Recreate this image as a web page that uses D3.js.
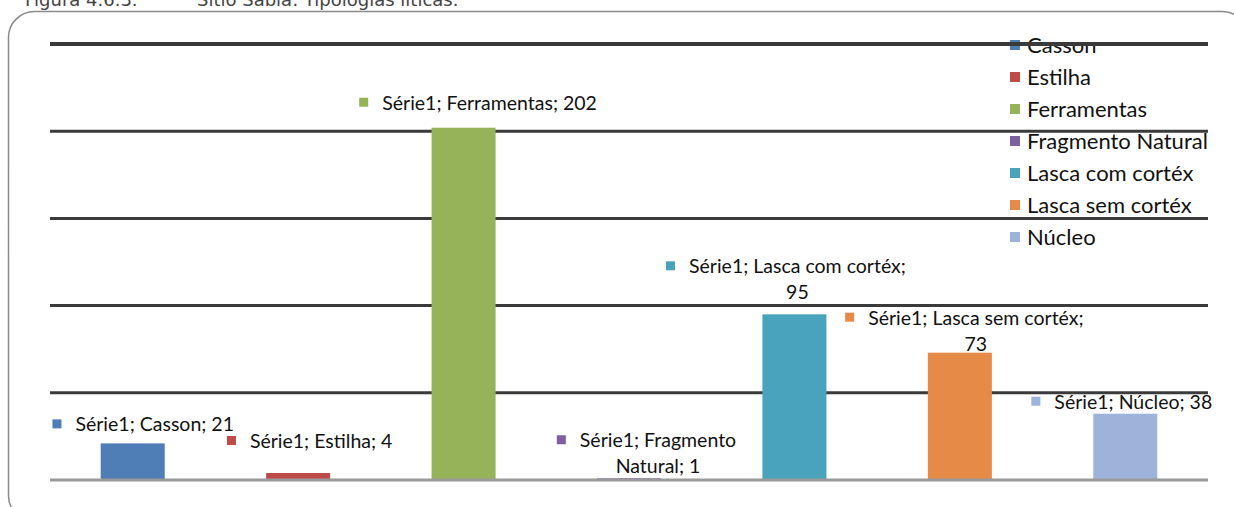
<!DOCTYPE html>
<html>
<head>
<meta charset="utf-8">
<script src="https://cdn.jsdelivr.net/npm/d3@7"></script>
<style>
  body { margin: 0; background: #fff; }
  svg { display: block; }
</style>
</head>
<body>
<svg id="chart" width="1234" height="507"></svg>
<script>
// data
var categories = ["Casson", "Estilha", "Ferramentas", "Fragmento Natural", "Lasca com cortéx", "Lasca sem cortéx", "Núcleo"];
var values = [21, 4, 202, 1, 95, 73, 38];
var colors = ["#4f7db6", "#be4b48", "#97b359", "#7d60a0", "#4aa3bd", "#e68b47", "#9eb3da"];
var seriesName = "Série1";
var yTicks = [0, 50, 100, 150, 200, 250];
// how Excel wrapped the data labels
var labelLines = [
  ["Série1; Casson; 21"],
  ["Série1; Estilha; 4"],
  ["Série1; Ferramentas; 202"],
  ["Série1; Fragmento", "Natural; 1"],
  ["Série1; Lasca com cortéx;", "95"],
  ["Série1; Lasca sem cortéx;", "73"],
  ["Série1; Núcleo; 38"]
];
var labelDx = [22, 23, 26, 29, 3, 16, 8];
var labelDy = [19, 32, 25, 38, 48, 35, 12];

var svg = d3.select("#chart");
var plotL = 50, plotR = 1208, plotT = 44, plotB = 480;

var x = d3.scaleBand()
    .domain(categories)
    .range([plotL, plotR])
    .paddingInner(0.613)
    .paddingOuter(0.3065);
var y = d3.scaleLinear().domain([0, 250]).range([plotB, plotT]);

// caption (cut off at top)
svg.append("text")
    .attr("x", 25).attr("y", 6)
    .style("font-family", "DejaVu Sans")
    .style("font-size", "18px")
    .style("fill", "#444")
    .text("Figura 4.6.3.");
svg.append("text")
    .attr("x", 197).attr("y", 6)
    .style("font-family", "DejaVu Sans")
    .style("font-size", "18px")
    .style("fill", "#444")
    .text("Sítio Sabiá: Tipologias líticas.");

// frame
svg.append("rect")
    .attr("x", 8.5).attr("y", 11.5)
    .attr("width", 1240).attr("height", 510)
    .attr("rx", 26).attr("ry", 26)
    .style("fill", "none")
    .style("stroke", "#8a8a8a")
    .style("stroke-width", 1.5);

// gridlines
var grid = svg.append("g").attr("class", "grid");
grid.selectAll("line")
    .data(yTicks.filter(function(d){ return d > 0; }))
    .enter()
    .append("line")
    .attr("x1", plotL).attr("x2", plotR)
    .attr("y1", function(d){ return y(d); })
    .attr("y2", function(d){ return y(d); })
    .style("stroke", "#3a3a3a")
    .style("stroke-width", function(d){ return d == 250 ? 4 : 3; });

// bars
svg.append("g").selectAll("rect")
    .data(values)
    .enter()
    .append("rect")
    .attr("x", function(d, i){ return x(categories[i]); })
    .attr("y", function(d){ return y(d); })
    .attr("width", x.bandwidth())
    .attr("height", function(d){ return y(0) - y(d); })
    .style("fill", function(d, i){ return colors[i]; });

// baseline
svg.append("line")
    .attr("x1", plotL).attr("x2", plotR)
    .attr("y1", y(0)).attr("y2", y(0))
    .style("stroke", "#9a9a9a")
    .style("stroke-width", 3);

// data labels
var labels = svg.append("g").selectAll("g")
    .data(values)
    .enter()
    .append("g")
    .attr("transform", function(d, i){
        var cx = x(categories[i]) + x.bandwidth() / 2 + labelDx[i];
        return "translate(" + cx + "," + (y(d) - labelDy[i]) + ")";
    });

labels.each(function(d, i){
    var g = d3.select(this);
    var lines = labelLines[i];
    lines.forEach(function(s, k){
        var t = g.append("text")
            .attr("x", 0)
            .attr("y", k * 26)
            .attr("dy", "0.35em")
            .attr("text-anchor", "middle")
            .style("font-family", "Lato")
            .style("font-size", "19.5px")
            .style("fill", "#111")
            .text(s);
        if (k == 0) {
            var w = t.node().getComputedTextLength();
            g.append("rect")
                .attr("x", -w / 2 - 23)
                .attr("y", -5)
                .attr("width", 9).attr("height", 9)
                .style("fill", colors[i]);
        }
    });
});

// legend
var legend = svg.append("g").selectAll("g")
    .data(categories)
    .enter()
    .append("g")
    .attr("transform", function(d, i){ return "translate(1010," + (45 + i * 32) + ")"; });
legend.append("rect")
    .attr("x", 0).attr("y", -5)
    .attr("width", 10).attr("height", 10)
    .style("fill", function(d, i){ return colors[i]; });
legend.append("text")
    .attr("x", 17)
    .attr("dy", "0.35em")
    .style("font-family", "Lato")
    .style("font-size", "22px")
    .style("fill", "#111")
    .text(function(d){ return d; });

// the top gridline runs over the legend text in the reference
svg.append("line")
    .attr("x1", 1000).attr("x2", plotR)
    .attr("y1", y(250)).attr("y2", y(250))
    .style("stroke", "#3a3a3a")
    .style("stroke-width", 4);
</script>
</body>
</html>
